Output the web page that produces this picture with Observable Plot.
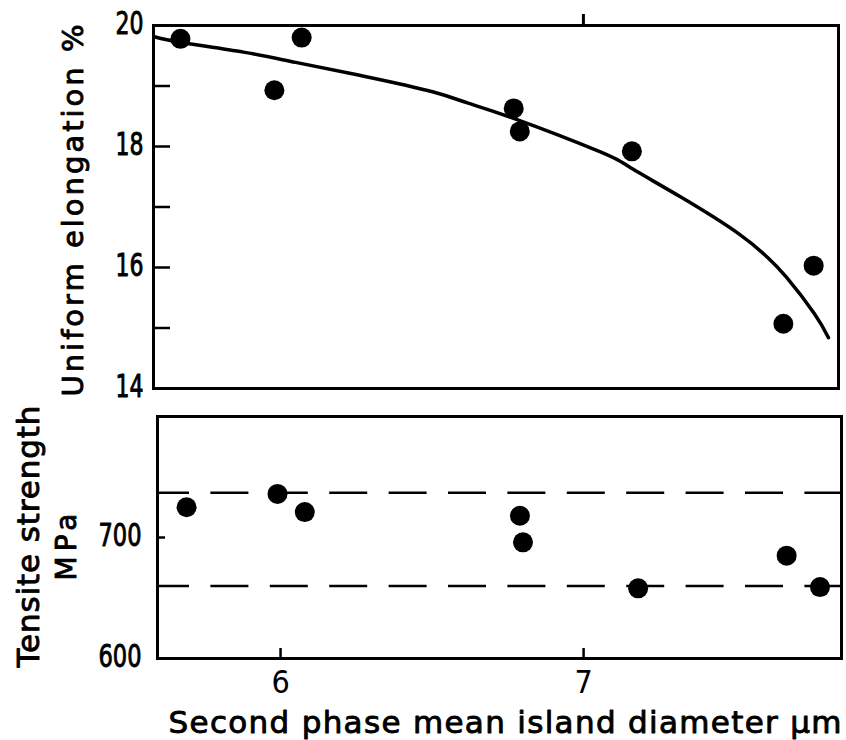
<!DOCTYPE html>
<html><head><meta charset="utf-8">
<script src="https://cdn.jsdelivr.net/npm/d3@7"></script>
<script src="https://cdn.jsdelivr.net/npm/@observablehq/plot@0.6"></script>
<style>
html,body{margin:0;padding:0;background:#fff;}
#chart{position:relative;width:846px;height:740px;overflow:hidden;}
#top,#bottom{position:absolute;left:0;}
#top{top:0;} #bottom{top:400px;}
svg{overflow:visible;}
</style></head><body>
<div id="chart"><div id="top"></div><div id="bottom"></div></div>
<script>
// ---- data ----
const diameter = [5.67, 5.98, 6.07, 6.77, 6.79, 7.16, 7.66, 7.76];
const elongation = [19.78, 18.93, 19.8, 18.63, 18.25, 17.92, 15.07, 16.03];
const curveDiameter = [5.587, 5.673, 5.878, 6.05, 6.287, 6.505, 6.617, 6.772, 7.056, 7.152, 7.323, 7.512, 7.607, 7.67, 7.762, 7.809];
const curveElongation = [19.81, 19.72, 19.56, 19.39, 19.15, 18.90, 18.72, 18.46, 17.91, 17.66, 17.16, 16.56, 16.17, 15.84, 15.24, 14.84];
const tensileDiameter = [5.69, 5.99, 6.08, 6.79, 6.80, 7.18, 7.67, 7.78];
const tensile = [725, 736, 721, 718, 696, 658, 685, 659];
const tensileBand = [737, 660];
const elongTicks = [14, 16, 18, 20];
const elongMinor = [15, 16, 17, 18, 19];
const tensileTicks = [600, 700];
const xTicks = [6, 7];
const yLabelTop = "Uniform elongation %";
const yLabelBottom1 = "Tensite strength";
const yLabelBottom2 = "MPa";
const xLabel = "Second phase mean island diameter µm";

const pts = diameter.map((d, i) => ({x: d, y: elongation[i]}));
const curve = curveDiameter.map((d, i) => ({x: d, y: curveElongation[i]}));
const tpts = tensileDiameter.map((d, i) => ({x: d, y: tensile[i]}));

const numFont = "'DejaVu Sans Condensed', 'DejaVu Sans', sans-serif";
const labFont = "'DejaVu Sans', sans-serif";
const ink = {fill: "black", stroke: "black", strokeWidth: 0.9};

const topPlot = Plot.plot({
  width: 846, height: 400,
  marginLeft: 153, marginRight: 8, marginTop: 25, marginBottom: 12,
  style: {background: "transparent", color: "black", overflow: "visible"},
  x: {domain: [5.581, 7.842]},
  y: {domain: [14, 20]},
  marks: [
    Plot.frame({stroke: "black", strokeWidth: 3}),
    Plot.line(curve, {x: "x", y: "y", curve: "natural", stroke: "black", strokeWidth: 3.5}),
    Plot.dot(pts, {x: "x", y: "y", r: 10, fill: "black"}),
    Plot.text(elongTicks, {y: d => d, text: d => String(d), frameAnchor: "left", dx: -38, dy: -2, textAnchor: "start", lineAnchor: "middle", fontSize: 32, fontFamily: numFont, ...ink}),
    Plot.axisY({ticks: elongMinor, tickSize: 17, dx: 17, strokeWidth: 2.5, tickFormat: () => "", label: null}),
    Plot.axisX({anchor: "top", ticks: [7], tickSize: 12, strokeWidth: 3, tickFormat: () => "", label: null}),
    Plot.text([yLabelTop], {text: d => d, frameAnchor: "left", dx: -71, dy: 189.5, rotate: -90, textAnchor: "start", lineAnchor: "bottom", fontSize: 29, fontFamily: labFont, ...ink})
  ]
});

const bottomPlot = Plot.plot({
  width: 846, height: 340,
  marginLeft: 157, marginRight: 5, marginTop: 16, marginBottom: 82,
  style: {background: "transparent", color: "black", overflow: "visible"},
  x: {domain: [5.594, 7.851]},
  y: {domain: [600, 800]},
  marks: [
    Plot.frame({stroke: "black", strokeWidth: 3}),
    Plot.ruleY(tensileBand, {y: d => d, stroke: "black", strokeWidth: 2.5, strokeDasharray: "38,21.4", strokeDashoffset: 6}),
    Plot.dot(tpts, {x: "x", y: "y", r: 10, fill: "black"}),
    Plot.text(tensileTicks, {y: d => d, text: d => String(d), frameAnchor: "left", dx: -59, dy: -2, textAnchor: "start", lineAnchor: "middle", fontSize: 32, fontFamily: numFont, ...ink}),
    Plot.axisY({ticks: [700], tickSize: 8, dx: 8, strokeWidth: 2.5, tickFormat: () => "", label: null}),
    Plot.axisX({ticks: xTicks, tickSize: 0, tickPadding: 12, fontSize: 32, fontFamily: numFont, tickFormat: "d", label: null, ...ink}),
    Plot.axisX({ticks: xTicks, tickSize: 10, dy: -10, strokeWidth: 2.5, tickFormat: () => "", label: null}),
    Plot.text([yLabelBottom1], {text: d => d, frameAnchor: "left", dx: -119, dy: 130, rotate: -90, textAnchor: "start", lineAnchor: "bottom", fontSize: 31, fontFamily: labFont, ...ink}),
    Plot.text([yLabelBottom2], {text: d => d, frameAnchor: "left", dx: -82, dy: 43, rotate: -90, textAnchor: "start", lineAnchor: "bottom", fontSize: 28, fontFamily: labFont, ...ink}),
    Plot.text([xLabel], {text: d => d, frameAnchor: "bottom-left", dx: 11, dy: 74, textAnchor: "start", lineAnchor: "bottom", fontSize: 31, fontFamily: labFont, ...ink})
  ]
});

document.getElementById("top").appendChild(topPlot);
document.getElementById("bottom").appendChild(bottomPlot);

function fit(svg, txt, len, adjust) {
  d3.select(svg).selectAll("text").filter(function () { return this.textContent === txt; })
    .attr("textLength", len).attr("lengthAdjust", adjust || "spacing");
}
fit(topPlot, yLabelTop, 372);
fit(bottomPlot, yLabelBottom1, 262);
fit(bottomPlot, yLabelBottom2, 67);
fit(bottomPlot, xLabel, 673);
elongTicks.forEach(t => fit(topPlot, String(t), 28, "spacingAndGlyphs"));
tensileTicks.forEach(t => fit(bottomPlot, String(t), 43, "spacingAndGlyphs"));
</script>
</body></html>
